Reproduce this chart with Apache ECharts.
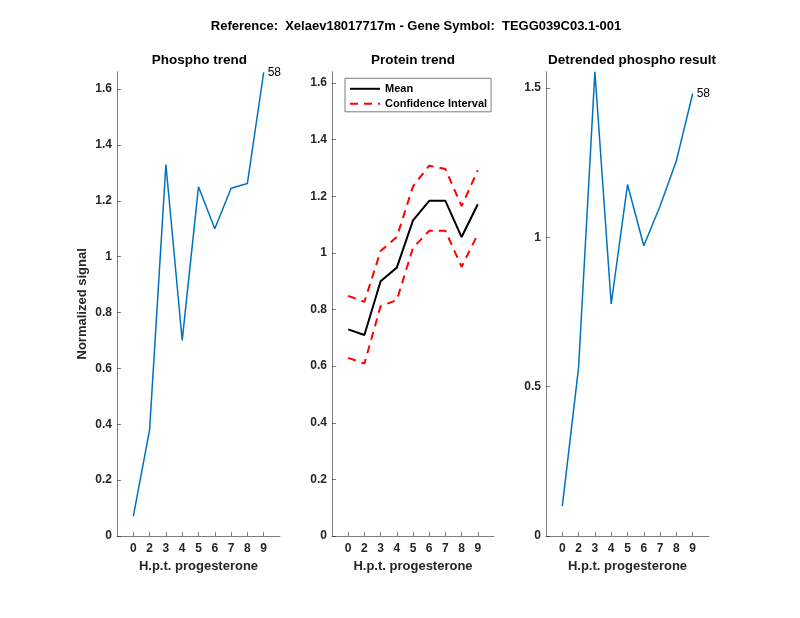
<!DOCTYPE html>
<html>
<head>
<meta charset="utf-8">
<script src="https://cdn.jsdelivr.net/npm/echarts@6/dist/echarts.min.js"></script>
<style>html,body{margin:0;padding:0;background:#fff}#c{width:800px;height:618px}</style>
</head>
<body>
<div id="c"></div>
<script>
const categories = ['0','2','3','4','5','6','7','8','9'];
const phospho = [0.07, 0.38, 1.33, 0.70, 1.25, 1.10, 1.245, 1.262, 1.66];
const proteinMean = [0.73, 0.71, 0.90, 0.948, 1.115, 1.184, 1.184, 1.056, 1.172];
const proteinUpper = [0.848, 0.827, 1.007, 1.056, 1.235, 1.308, 1.296, 1.165, 1.292];
const proteinLower = [0.629, 0.609, 0.812, 0.833, 1.018, 1.078, 1.078, 0.951, 1.066];
const detrended = [0.10, 0.565, 1.555, 0.777, 1.177, 0.972, 1.105, 1.257, 1.482];
const peptideLabel = '58';
const yTicks1 = [0, 0.2, 0.4, 0.6, 0.8, 1, 1.2, 1.4, 1.6];
const yTicks2 = [0, 0.2, 0.4, 0.6, 0.8, 1, 1.2, 1.4, 1.6];
const yTicks3 = [0, 0.5, 1, 1.5];
const mainTitle = 'Reference:  Xelaev18017717m - Gene Symbol:  TEGG039C03.1-001';
const subTitles = ['Phospho trend', 'Protein trend', 'Detrended phospho result'];
const xName = 'H.p.t. progesterone';
const yName = 'Normalized signal';

const FONT = 'Liberation Sans, Arial, Helvetica, sans-serif';
const AX = '#262626';
const xPos = categories.map((c, i) => i + 1);

function toData(vals) {
  return vals.map((v, i) => [xPos[i], v]);
}

const grids = [
  { left: 117, width: 163, top: 71.7, height: 464.3 },
  { left: 332, width: 162, top: 71.7, height: 464.3 },
  { left: 546, width: 163, top: 71.7, height: 464.3 }
];

function xAxis(idx) {
  return {
    type: 'value', gridIndex: idx, min: 0, max: 10, interval: 1,
    name: xName, nameLocation: 'middle', nameGap: 24,
    nameTextStyle: { fontFamily: FONT, fontSize: 13, fontWeight: 'bold', color: AX },
    axisLine: { show: true, onZero: false, lineStyle: { color: AX, width: 0.6 } },
    axisTick: { show: true, inside: true, length: 4, customValues: xPos, lineStyle: { color: AX, width: 0.6 } },
    axisLabel: { customValues: xPos, formatter: v => categories[v - 1] ?? '', margin: 7,
      fontFamily: FONT, fontSize: 12, fontWeight: 'bold', color: AX },
    splitLine: { show: false }
  };
}
function yAxis(idx, max, ticks, name) {
  return {
    type: 'value', gridIndex: idx, min: 0, max: max,
    name: name || '', nameLocation: 'middle', nameGap: 28,
    nameTextStyle: { fontFamily: FONT, fontSize: 13, fontWeight: 'bold', color: AX },
    axisLine: { show: true, lineStyle: { color: AX, width: 0.6 } },
    axisTick: { show: true, inside: true, length: 4, customValues: ticks, lineStyle: { color: AX, width: 0.6 } },
    axisLabel: { customValues: ticks, formatter: v => String(+v.toFixed(2)), margin: 5,
      fontFamily: FONT, fontSize: 12, fontWeight: 'bold', color: AX },
    splitLine: { show: false }
  };
}
const endLabel = { show: true, formatter: peptideLabel, distance: 4, color: '#000', fontSize: 12, fontFamily: FONT };

const titleStyle = { fontFamily: FONT, fontSize: 13, fontWeight: 'bold', color: '#000' };
const subStyle = { fontFamily: FONT, fontSize: 13.5, fontWeight: 'bold', color: '#000' };
const option = {
  animation: false,
  title: [
    { text: mainTitle, left: 416, top: 20, padding: 0, textAlign: 'center', textStyle: titleStyle },
    { text: subTitles[0], left: 199.4, top: 53, padding: 0, textAlign: 'center', textStyle: subStyle },
    { text: subTitles[1], left: 413, top: 53, padding: 0, textAlign: 'center', textStyle: subStyle },
    { text: subTitles[2], left: 632, top: 53, padding: 0, textAlign: 'center', textStyle: subStyle }
  ],
  legend: {
    orient: 'vertical', left: 345, top: 78.3, itemWidth: 30, itemHeight: 12, itemGap: 4,
    padding: [5, 4, 2.5, 4], borderColor: AX, borderWidth: 0.6, backgroundColor: '#fff',
    itemStyle: { opacity: 0 },
    data: ['Mean', 'Confidence Interval'],
    textStyle: { fontFamily: FONT, fontSize: 11, fontWeight: 'bold', color: '#000' }
  },
  grid: grids,
  xAxis: [xAxis(0), xAxis(1), xAxis(2)],
  yAxis: [yAxis(0, 1.662, yTicks1, yName), yAxis(1, 1.64, yTicks2), yAxis(2, 1.555, yTicks3)],
  series: [
    { type: 'line', xAxisIndex: 0, yAxisIndex: 0, data: toData(phospho), symbol: 'none',
      lineStyle: { color: '#0072BD', width: 1.5 }, itemStyle: { color: '#0072BD' }, endLabel: endLabel },
    { name: 'Mean', type: 'line', xAxisIndex: 1, yAxisIndex: 1, data: toData(proteinMean), symbol: 'none',
      lineStyle: { color: '#000', width: 2 }, itemStyle: { color: '#000' }, z: 3 },
    { name: 'Confidence Interval', type: 'line', xAxisIndex: 1, yAxisIndex: 1, data: toData(proteinUpper), symbol: 'none',
      lineStyle: { color: '#ff0000', width: 2, type: [8, 6] }, itemStyle: { color: '#ff0000' } },
    { name: 'Confidence Interval', type: 'line', xAxisIndex: 1, yAxisIndex: 1, data: toData(proteinLower), symbol: 'none',
      lineStyle: { color: '#ff0000', width: 2, type: [8, 6] }, itemStyle: { color: '#ff0000' } },
    { type: 'line', xAxisIndex: 2, yAxisIndex: 2, data: toData(detrended), symbol: 'none',
      lineStyle: { color: '#0072BD', width: 1.5 }, itemStyle: { color: '#0072BD' }, endLabel: endLabel }
  ]
};
const chart = echarts.init(document.getElementById('c'), null, { renderer: 'canvas' });
chart.setOption(option);
</script>
</body>
</html>
